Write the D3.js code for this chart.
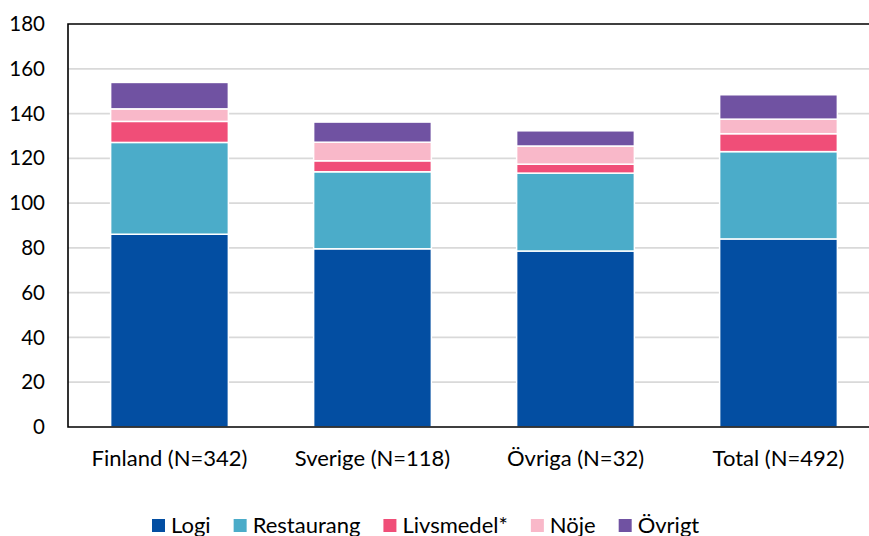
<!DOCTYPE html>
<html>
<head>
<meta charset="utf-8">
<script src="https://cdn.jsdelivr.net/npm/d3@7"></script>
<style>
  body { margin: 0; background: #fff; }
  text { font-family: Lato, "Noto Sans", sans-serif; fill: #000; }
</style>
</head>
<body>
<div id="chart"></div>
<script>
// data
const categories = ["Finland (N=342)", "Sverige (N=118)", "Övriga (N=32)", "Total (N=492)"];
const seriesNames = ["Logi", "Restaurang", "Livsmedel*", "Nöje", "Övrigt"];
const logi       = [86.1, 79.6, 78.6, 84.0];
const restaurang = [41.0, 34.4, 34.8, 39.0];
const livsmedel  = [9.4, 4.9, 4.0, 8.0];
const noje       = [5.6, 8.3, 8.1, 6.5];
const ovrigt     = [11.8, 9.0, 6.8, 10.9];
const yTicks = [0, 20, 40, 60, 80, 100, 120, 140, 160, 180];
const colors = ["#034ea2", "#4bacc9", "#f04e78", "#f9b8c9", "#7052a2"];

const width = 869, height = 536;
const margin = { top: 24, right: -11, bottom: 109, left: 68 };

const svg = d3.select("#chart").append("svg")
  .attr("width", width)
  .attr("height", height);

// build rows for the stack
const rows = categories.map((c, i) => ({
  cat: c,
  "Logi": logi[i],
  "Restaurang": restaurang[i],
  "Livsmedel*": livsmedel[i],
  "Nöje": noje[i],
  "Övrigt": ovrigt[i]
}));
const stacked = d3.stack().keys(seriesNames)(rows);

const x = d3.scaleBand().domain(categories)
  .range([margin.left, width - margin.right])
  .paddingInner(0.42).paddingOuter(0.21);
const y = d3.scaleLinear().domain([0, 180])
  .range([height - margin.bottom, margin.top]);
const color = d3.scaleOrdinal().domain(seriesNames).range(colors);

// gridlines
svg.append("g")
  .selectAll("line")
  .data(yTicks.slice(1, -1))
  .join("line")
  .attr("x1", margin.left).attr("x2", width - margin.right)
  .attr("y1", d => y(d)).attr("y2", d => y(d))
  .attr("stroke", "#d9d9d9")
  .attr("stroke-width", 1.8);

// bars
svg.append("g")
  .selectAll("g")
  .data(stacked)
  .join("g")
  .attr("fill", d => color(d.key))
  .selectAll("rect")
  .data(d => d)
  .join("rect")
  .attr("x", d => x(d.data.cat))
  .attr("width", x.bandwidth())
  .attr("y", d => y(d[1]))
  .attr("height", d => y(d[0]) - y(d[1]))
  .attr("stroke", "#fff")
  .attr("stroke-width", 1.5);

// plot border (top / left / bottom)
svg.append("path")
  .attr("d", `M${width + 5},${y(180)}H${margin.left}V${y(0)}H${width + 5}`)
  .attr("fill", "none")
  .attr("stroke", "#000")
  .attr("stroke-width", 1.6);

// y axis labels
const yAxis = d3.axisLeft(y).tickValues(yTicks).tickSize(0).tickPadding(23);
const gy = svg.append("g")
  .attr("transform", `translate(${margin.left},0)`)
  .call(yAxis);
gy.select(".domain").remove();
gy.selectAll("text")
  .style("font-family", "Lato, 'Noto Sans', sans-serif")
  .style("font-size", "20.5px")
  .attr("fill", "#000");

// x axis labels
const xAxis = d3.axisBottom(x).tickSize(0).tickPadding(23);
const gx = svg.append("g")
  .attr("transform", `translate(0,${y(0)})`)
  .call(xAxis);
gx.select(".domain").remove();
gx.selectAll("text")
  .style("font-family", "Lato, 'Noto Sans', sans-serif")
  .style("font-size", "22px")
  .attr("fill", "#000");

// legend
const legend = svg.append("g").attr("transform", "translate(152,519)");
let lx = 0;
seriesNames.forEach((name, i) => {
  const g = legend.append("g").attr("transform", `translate(${lx},0)`);
  g.append("rect")
    .attr("width", 13).attr("height", 13)
    .attr("fill", colors[i]);
  const t = g.append("text")
    .attr("x", 19).attr("y", 13.5)
    .style("font-size", "22px")
    .text(name);
  lx += 19 + t.node().getComputedTextLength() + 23;
});
</script>
</body>
</html>
